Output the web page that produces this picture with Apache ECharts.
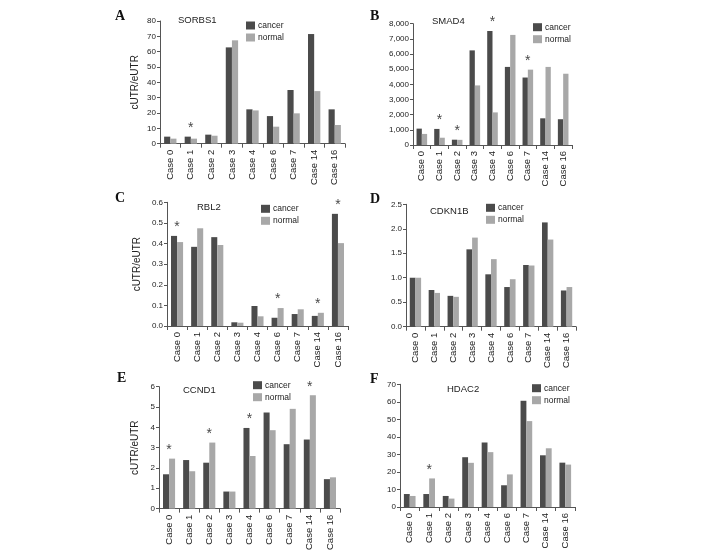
<!DOCTYPE html>
<html>
<head>
<meta charset="utf-8">
<script src="https://cdn.jsdelivr.net/npm/echarts@6/dist/echarts.min.js"></script>
<style>html,body{margin:0;padding:0;background:#fff}#c{width:708px;height:553px}</style>
</head>
<body>
<div id="c"></div>
<script>
const categories = ['Case 0','Case 1','Case 2','Case 3','Case 4','Case 6','Case 7','Case 14','Case 16'];

const sorbs1Cancer = [4.6, 4.6, 5.9, 62.8, 22.4, 18.0, 35.0, 71.5, 22.4];
const sorbs1Normal = [3.3, 3.3, 5.2, 67.4, 21.7, 11.1, 19.8, 34.3, 12.2];
const sorbs1Stars = ['Case 1'];

const smad4Cancer = [1080, 1060, 350, 6240, 7520, 5150, 4450, 1760, 1700];
const smad4Normal = [730, 480, 340, 3930, 2150, 7260, 4970, 5150, 4700];
const smad4Stars = ['Case 1', 'Case 2', 'Case 4', 'Case 7'];

const rbl2Cancer = [0.437, 0.384, 0.431, 0.018, 0.097, 0.040, 0.058, 0.049, 0.544];
const rbl2Normal = [0.407, 0.474, 0.393, 0.016, 0.047, 0.087, 0.081, 0.064, 0.402];
const rbl2Stars = ['Case 0', 'Case 6', 'Case 14', 'Case 16'];

const cdkn1bCancer = [1.00, 0.75, 0.63, 1.58, 1.07, 0.81, 1.26, 2.13, 0.74];
const cdkn1bNormal = [1.00, 0.69, 0.61, 1.82, 1.38, 0.97, 1.25, 1.78, 0.81];
const cdkn1bStars = [];

const ccnd1Cancer = [1.69, 2.39, 2.26, 0.84, 3.97, 4.73, 3.17, 3.40, 1.45];
const ccnd1Normal = [2.46, 1.84, 3.25, 0.84, 2.59, 3.86, 4.91, 5.58, 1.54];
const ccnd1Stars = ['Case 0', 'Case 2', 'Case 4', 'Case 14'];

const hdac2Cancer = [7.4, 7.4, 6.3, 28.4, 36.8, 12.4, 60.6, 29.5, 25.3];
const hdac2Normal = [6.3, 16.3, 4.8, 25.2, 31.3, 18.6, 49.0, 33.5, 24.2];
const hdac2Stars = ['Case 1'];

const FONT = '"Liberation Sans", Arial, sans-serif';
const COL_C = '#4b4b4b', COL_N = '#a8a8a8';

const panels = [
  {letter:'A', title:'SORBS1', c:sorbs1Cancer, n:sorbs1Normal, stars:sorbs1Stars, max:80, interval:10, fmt:v=>String(v),
   grid:{left:160, top:21, width:185, height:122.7}, yName:true, nameGap:20,
   letterPos:[115,9], titlePos:[178,15], legendPos:[246,21]},
  {letter:'B', title:'SMAD4', c:smad4Cancer, n:smad4Normal, stars:smad4Stars, max:8000, interval:1000,
   fmt:v=>v===0?'0':(v/1000)+',000',
   grid:{left:413, top:23.7, width:159, height:121.3}, yName:false,
   letterPos:[370,9], titlePos:[432,16.5], legendPos:[533,22.7]},
  {letter:'C', title:'RBL2', c:rbl2Cancer, n:rbl2Normal, stars:rbl2Stars, max:0.6, interval:0.1, fmt:v=>v.toFixed(1),
   grid:{left:167, top:202.3, width:181, height:123.7}, yName:true, nameGap:25,
   letterPos:[115,191], titlePos:[197,202.5], legendPos:[261,204.3]},
  {letter:'D', title:'CDKN1B', c:cdkn1bCancer, n:cdkn1bNormal, stars:cdkn1bStars, max:2.5, interval:0.5, fmt:v=>v.toFixed(1),
   grid:{left:406, top:204.3, width:170, height:122.4}, yName:false,
   letterPos:[370,192], titlePos:[430,206.5], legendPos:[486,203.3]},
  {letter:'E', title:'CCND1', c:ccnd1Cancer, n:ccnd1Normal, stars:ccnd1Stars, max:6, interval:1, fmt:v=>String(v),
   grid:{left:159, top:386.7, width:181, height:123}, yName:true, nameGap:19,
   letterPos:[117,371], titlePos:[183,385.5], legendPos:[253,380.7]},
  {letter:'F', title:'HDAC2', c:hdac2Cancer, n:hdac2Normal, stars:hdac2Stars, max:70, interval:10, fmt:v=>String(v),
   grid:{left:400, top:384.3, width:175, height:122.7}, yName:false,
   letterPos:[370,372], titlePos:[447,384], legendPos:[532,383.7]}
];

const grid = [], xAxis = [], yAxis = [], series = [], legend = [], title = [];
panels.forEach((p, i) => {
  grid.push(Object.assign({containLabel:false}, p.grid));
  xAxis.push({
    type:'category', gridIndex:i, data:categories,
    axisLine:{lineStyle:{color:'#555', width:1}},
    axisTick:{show:true, length:4, lineStyle:{color:'#555'}},
    axisLabel:{rotate:90, fontSize:9.5, color:'#222', fontFamily:FONT, margin:6, interval:0}
  });
  yAxis.push({
    type:'value', gridIndex:i, min:0, max:p.max, interval:p.interval,
    splitLine:{show:false},
    axisLine:{show:true, lineStyle:{color:'#555', width:1}},
    axisTick:{show:true, length:3, lineStyle:{color:'#555'}},
    axisLabel:{fontSize:8, color:'#222', fontFamily:FONT, margin:4, formatter:p.fmt},
    name: p.yName ? 'cUTR/eUTR' : '',
    nameLocation:'middle', nameGap:p.nameGap || 20, nameRotate:90,
    nameTextStyle:{fontSize:10, color:'#222', fontFamily:FONT}
  });
  series.push({
    name:'cancer', type:'bar', xAxisIndex:i, yAxisIndex:i, data:p.c,
    itemStyle:{color:COL_C}, barGap:'0%', barCategoryGap:'40%'
  });
  series.push({
    name:'normal', type:'bar', xAxisIndex:i, yAxisIndex:i, data:p.n,
    itemStyle:{color:COL_N}, barGap:'0%', barCategoryGap:'40%'
  });
  if (p.stars.length) {
    series.push({
      name:'sig' + i, type:'scatter', xAxisIndex:i, yAxisIndex:i,
      symbolSize:1, itemStyle:{color:'rgba(0,0,0,0)'}, silent:true,
      data:p.stars.map(cat => {
        const k = categories.indexOf(cat);
        return [cat, Math.max(p.c[k], p.n[k])];
      }),
      label:{show:true, position:'top', distance:1, formatter:'*', fontSize:14, color:'#111', fontFamily:FONT}
    });
  }
  legend.push({
    data:['cancer','normal'], orient:'vertical', left:p.legendPos[0], top:p.legendPos[1],
    itemWidth:9, itemHeight:8, itemGap:3, icon:'rect', padding:0,
    textStyle:{fontSize:8.5, color:'#222', fontFamily:FONT, padding:[0,0,0,-2]},
    selectedMode:false
  });
  title.push({
    text:p.title, left:p.titlePos[0], top:p.titlePos[1], padding:0,
    textStyle:{fontSize:9.5, fontWeight:'normal', color:'#222', fontFamily:FONT}
  });
  title.push({
    text:p.letter, left:p.letterPos[0], top:p.letterPos[1], padding:0,
    textStyle:{fontSize:14, fontWeight:'bold', color:'#111', fontFamily:'"Liberation Serif", "Times New Roman", serif'}
  });
});

const chart = echarts.init(document.getElementById('c'), null, {renderer:'canvas'});
chart.setOption({
  animation:false, backgroundColor:'#fff',
  title, grid, xAxis, yAxis, series, legend
});
</script>
</body>
</html>
